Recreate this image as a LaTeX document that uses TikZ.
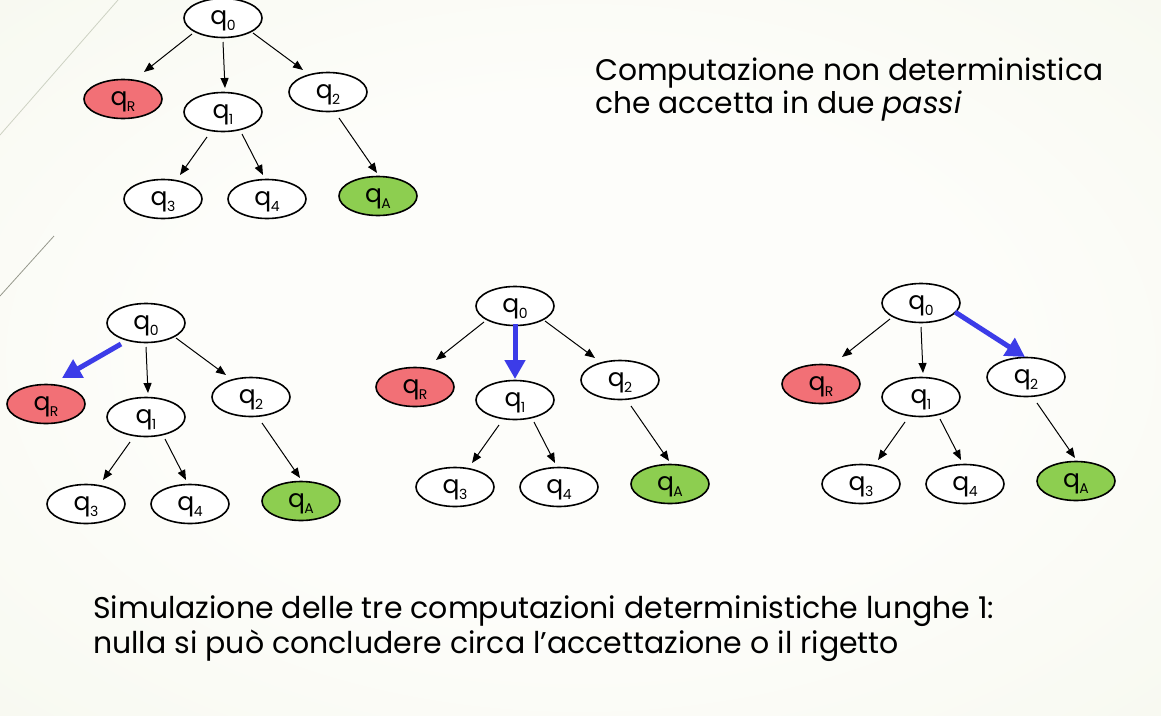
\documentclass[tikz,border=0pt]{standalone}
\usepackage{fontspec}
\setmainfont{Poppins}
\usetikzlibrary{arrows.meta,calc,shapes.geometric}
\definecolor{bgout}{RGB}{232,238,214}
\definecolor{bgmid}{RGB}{245,247,236}
\definecolor{bgin}{RGB}{253,253,250}
\definecolor{rej}{RGB}{242,112,118}
\definecolor{acc}{RGB}{141,206,80}
\definecolor{sel}{RGB}{60,60,232}
\definecolor{decoA}{RGB}{205,210,195}
\definecolor{decoB}{RGB}{150,152,140}
\pgfdeclareradialshading{bgshade}{\pgfpoint{0bp}{0bp}}{color(0bp)=(bgin); color(18bp)=(bgin); color(45bp)=(bgmid); color(72bp)=(bgout)}
\newlength\wA
\newlength\wB
\newcommand\qlab[1]{q\kern-0.5pt\raisebox{-0.22em}{\fontsize{14}{14}\selectfont #1}}
\tikzset{
  st/.style={ellipse, draw=black, line width=1.6pt, fill=white, minimum width=78pt,
    minimum height=39pt, inner sep=0pt, text depth=0pt, font=\fontsize{25}{25}\selectfont},
  rejst/.style={st, fill=rej},
  accst/.style={st, fill=acc},
  edge/.style={-{Triangle[length=10pt,width=8pt]}, line width=1pt},
  chosen/.style={-{Triangle[length=19pt,width=20pt]}, line width=5pt, draw=sel, fill=sel},
  txt/.style={anchor=base west, inner sep=0pt},
}
% #1 prefix, #2 x, #3 y of q0
\newcommand\mytree[3]{%
  \node[st] (#1q0) at (#2,#3) {\qlab{0}};
  \node[rejst] (#1qR) at ($(#1q0)+(-100,81)$) {\qlab{R}};
  \node[st] (#1q1) at ($(#1q0)+(0,94)$) {\qlab{1}};
  \node[st] (#1q2) at ($(#1q0)+(105,74)$) {\qlab{2}};
  \node[st] (#1q3) at ($(#1q0)+(-60,181)$) {\qlab{3}};
  \node[st] (#1q4) at ($(#1q0)+(44,181)$) {\qlab{4}};
  \node[accst] (#1qA) at ($(#1q0)+(155,178)$) {\qlab{A}};
  \draw[edge] ($(#1q1)+(-16,25)$) -- ($(#1q3)+(17,-24)$);
  \draw[edge] ($(#1q1)+(19,22)$) -- ($(#1q4)+(-4,-24)$);
  \draw[edge] ($(#1q2)+(11,26)$) -- ($(#1qA)+(-1,-23)$);
}
\newcommand\edgeR[1]{\draw[edge] ($(#1q0)+(-31,16)$) -- ($(#1qR)+(21,-27)$);}
\newcommand\edgeOne[1]{\draw[edge] ($(#1q0)+(0,24)$) -- ($(#1q1)+(2,-24)$);}
\newcommand\edgeTwo[1]{\draw[edge] ($(#1q0)+(30,15)$) -- ($(#1q2)+(-25,-22)$);}
\begin{document}
\settowidth\wA{\fontsize{10}{10}\selectfont Computazione non deterministica}%
\settowidth\wB{\fontsize{10}{10}\selectfont Simulazione delle tre computazioni deterministiche lunghe 1:}%
\pgfmathsetmacro\fsA{10*508/\wA}%
\pgfmathsetmacro\fsB{10*901/\wB}%
\begin{tikzpicture}[x=1pt,y=-1pt]
  \useasboundingbox (0,0) rectangle (1161,715);
  \shade[shading=bgshade] (0,0) rectangle (1161,715);
  \draw[decoA, line width=0.8pt] (118,0) -- (0,135);
  \draw[decoB, line width=0.8pt] (54,236) -- (0,296);

  % top tree
  \mytree{a}{223}{18}
  \edgeR{a}\edgeOne{a}\edgeTwo{a}

  % bottom left tree: chooses q_R
  \mytree{b}{146}{323}
  \edgeOne{b}\edgeTwo{b}
  \draw[chosen] ($(bq0)+(-25,21)$) -- ($(bqR)+(16,-26)$);

  % bottom middle tree: chooses q_1
  \mytree{c}{515}{306}
  \edgeR{c}\edgeTwo{c}
  \draw[chosen] ($(cq0)+(0,18)$) -- ($(cq1)+(0,-21)$);

  % bottom right tree: chooses q_2
  \mytree{d}{921}{303}
  \edgeR{d}\edgeOne{d}
  \draw[chosen] ($(dq0)+(34,9)$) -- ($(dq2)+(-1,-20)$);

  % texts
  \node[txt] (t1) at (595,80) {\fontsize{\fsA}{\fsA}\selectfont Computazione non deterministica};
  \node[txt] (t2) at (595,113) {\fontsize{\fsA}{\fsA}\selectfont che accetta in due \textit{passi}};
  \node[txt] (b1) at (93,618) {\fontsize{\fsB}{\fsB}\selectfont Simulazione delle tre computazioni deterministiche lunghe 1:};
  \node[txt] (b2) at (93,653) {\fontsize{\fsB}{\fsB}\selectfont nulla si può concludere circa l’accettazione o il rigetto};
\end{tikzpicture}
\end{document}
